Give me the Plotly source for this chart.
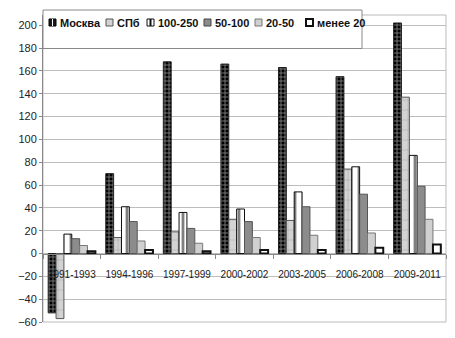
import plotly.graph_objects as go

categories = ["1991-1993", "1994-1996", "1997-1999", "2000-2002", "2003-2005", "2006-2008", "2009-2011"]
series_names = ["Москва", "СПб", "100-250", "50-100", "20-50", "менее 20"]
moskva = [-52, 70, 168, 166, 163, 155, 202]
spb = [-57, 14, 19, 30, 29, 74, 137]
s100_250 = [17, 41, 36, 39, 54, 76, 86]
s50_100 = [13, 28, 22, 28, 41, 52, 59]
s20_50 = [7, 11, 9, 14, 16, 18, 30]
less20 = [2, 3, 2, 3, 3, 5, 8]
values = [moskva, spb, s100_250, s50_100, s20_50, less20]

styles = [
    dict(color="black", pattern=dict(shape="+", fgcolor="white", bgcolor="black", size=4, solidity=0.4), line=dict(color="#222", width=1)),
    dict(color="#cfcfcf", pattern=dict(shape="+", fgcolor="#777", bgcolor="#d3d3d3", size=10, solidity=0.1), line=dict(color="#555", width=1)),
    dict(color="white", pattern=dict(shape="|", fgcolor="black", bgcolor="white", size=8, solidity=0.35), line=dict(color="#111", width=1)),
    dict(color="#8c8c8c", line=dict(color="#555", width=1)),
    dict(color="#d0d0d0", line=dict(color="#777", width=1)),
    dict(color="white", line=dict(color="#111", width=2)),
]
# legend symbol styles (fill, border colour, border width)
legend_sym = [("#1a1a1a", "#000", 1), ("#d3d3d3", "#555", 1), ("white", "#111", 1),
              ("#8c8c8c", "#444", 1), ("#d0d0d0", "#777", 1), ("white", "#111", 2)]

ymin, ymax = -60, 209
W, H = 455, 338
ML, MR, MT, MB = 43, 9, 15, 16
PW, PH = W - ML - MR, H - MT - MB


def px(x):
    return (x - ML) / PW


def py(y):
    return (H - MB - y) / PH


fig = go.Figure()
for name, vals, st in zip(series_names, values, styles):
    fig.add_trace(go.Bar(x=categories, y=vals, name=name, marker=st, showlegend=False))

fig.update_layout(
    width=W, height=H,
    margin=dict(l=ML, r=MR, t=MT, b=MB),
    paper_bgcolor="white", plot_bgcolor="white",
    barmode="group", bargap=0.18, bargroupgap=0.0,
    font=dict(family="Liberation Sans, Arial, sans-serif", size=11, color="#222"),
    showlegend=False,
)
fig.update_yaxes(range=[ymin, ymax], dtick=20, tick0=0, showgrid=True, gridcolor="#bdbdbd",
                 gridwidth=1, zeroline=False, showline=True, linecolor="#888",
                 ticks="outside", ticklen=3, tickcolor="#888", tickfont=dict(size=11, color="#222"))
fig.update_xaxes(anchor="free", position=(0 - ymin) / (ymax - ymin), showline=True,
                 linecolor="#888", ticks="outside", ticklen=4, tickcolor="#888",
                 tickson="boundaries", showgrid=False, tickangle=0, ticklabelstandoff=11,
                 tickfont=dict(size=10, color="#222"))
fig.add_shape(type="rect", xref="paper", yref="paper", x0=0, y0=0, x1=1, y1=1,
              line=dict(color="#bbb", width=1), layer="below")

# custom one-row legend
fig.add_shape(type="rect", xref="paper", yref="paper", x0=px(43), y0=py(48.5), x1=px(362), y1=py(10),
              line=dict(color="#888", width=1), fillcolor="white", layer="above")
sym_x = [49, 106, 147, 204, 255, 306]
for i, name in enumerate(series_names):
    fill, lc, lw = legend_sym[i]
    x0 = sym_x[i]
    fig.add_shape(type="rect", xref="paper", yref="paper", x0=px(x0), y0=py(26), x1=px(x0 + 7), y1=py(19),
                  line=dict(color=lc, width=lw), fillcolor=fill, layer="above")
    if i == 2:
        fig.add_shape(type="rect", xref="paper", yref="paper", x0=px(x0 + 2.5), y0=py(26), x1=px(x0 + 4.5), y1=py(19),
                      line=dict(width=0), fillcolor="#111", layer="above")
    if i == 0:
        fig.add_shape(type="line", xref="paper", yref="paper", x0=px(x0 + 3.5), y0=py(26), x1=px(x0 + 3.5), y1=py(19),
                      line=dict(color="white", width=1), layer="above")
    fig.add_annotation(x=px(x0 + 9), y=py(22.5), xref="paper", yref="paper", text="<b>" + name + "</b>",
                       showarrow=False, xanchor="left", yanchor="middle",
                       font=dict(size=11, color="#111"))
fig.write_html("out.html")
